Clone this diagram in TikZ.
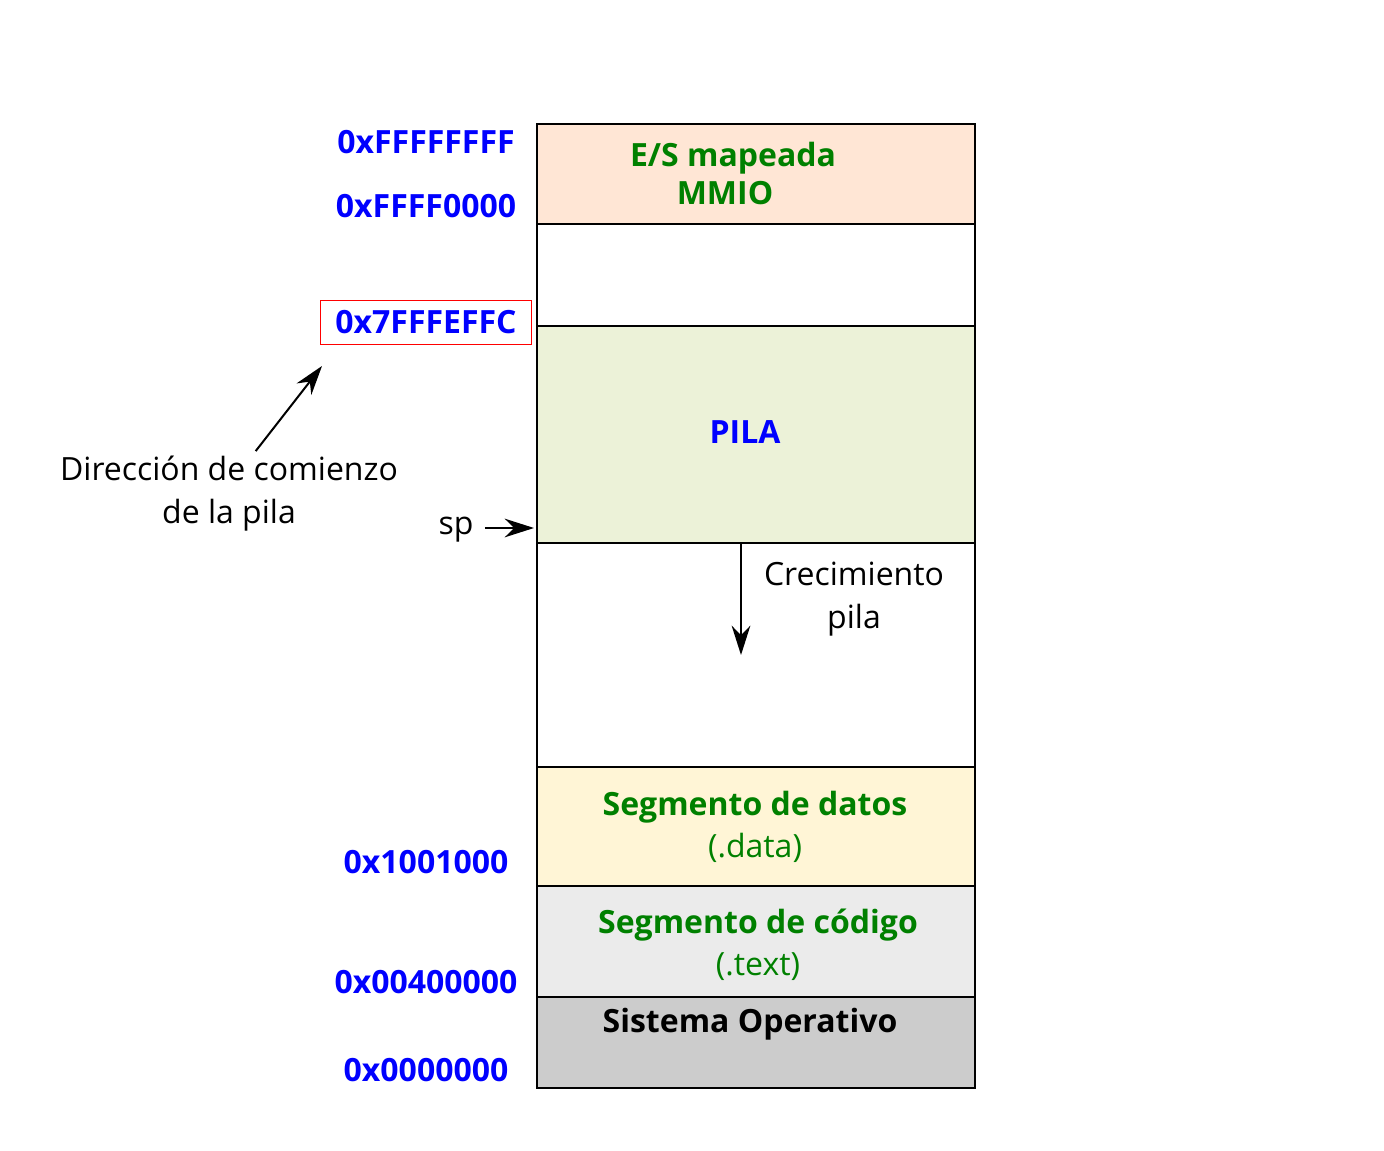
\documentclass[tikz,border=0pt]{standalone}
\usepackage{fontspec}
\setmainfont{Open Sans}
\usetikzlibrary{arrows.meta}
\definecolor{addrblue}{RGB}{0,0,255}
\definecolor{segtext}{RGB}{0,128,0}
\definecolor{mmiofill}{RGB}{255,230,213}
\definecolor{pilafill}{RGB}{236,242,216}
\definecolor{datosfill}{RGB}{255,245,214}
\definecolor{codigofill}{RGB}{235,235,235}
\definecolor{sofill}{RGB}{204,204,204}
\newcommand{\diagfont}{\fontsize{24}{32}\selectfont}
\begin{document}
\begin{tikzpicture}[x=0.75pt,y=0.75pt,yscale=-1,xscale=1,
    seg/.style={draw=black, line width=1.3pt, anchor=north west, minimum width=328.5pt, inner sep=0pt},
    addr/.style={text=addrblue, font=\diagfont\bfseries, anchor=base},
    segname/.style={text=segtext, font=\diagfont\bfseries, anchor=base},
    lbl/.style={font=\diagfont, anchor=base, align=center},
    arr/.style={-{Stealth[length=22pt,width=14pt]}, line width=1.5pt}]
                \useasboundingbox (0,0) rectangle (1384,1151);
                % memory segments
                \node (mmio) [seg, fill=mmiofill, minimum height=75pt] at (536,123) {};
                \node (libre) [seg, fill=white, minimum height=76.5pt] at (536,223) {};
                \node (pila) [seg, fill=pilafill, minimum height=162.75pt] at (536,325) {};
                \node (hueco) [seg, fill=white, minimum height=168pt] at (536,542) {};
                \node (datos) [seg, fill=datosfill, minimum height=89.25pt] at (536,766) {};
                \node (codigo) [seg, fill=codigofill, minimum height=83.25pt] at (536,885) {};
                \node (so) [seg, fill=sofill, minimum height=68.25pt] at (536,996) {};
                % segment names
                \node (esname) [segname] at (733,167) {E/S mapeada};
                \node (mmioname) [segname] at (725,205) {MMIO};
                \node (pilaname) [addr] at (745,444) {PILA};
                \node (datosname) [segname] at (755,815) {Segmento de datos};
                \node (datossub) [lbl, text=segtext] at (755,857) {(.data)};
                \node (codname) [segname] at (758,933) {Segmento de código};
                \node (codsub) [lbl, text=segtext] at (758,975) {(.text)};
                \node (soname) [lbl, font=\diagfont\bfseries] at (750,1032) {Sistema Operativo};
                % addresses
                \node (aFFFFFFFF) [addr] at (426,154) {0xFFFFFFFF};
                \node (aFFFF0000) [addr] at (426,218) {0xFFFF0000};
                \node (a7FFFEFFC) [addr, draw=red, line width=1pt, minimum width=158pt, minimum height=33pt] at (426,334) {0x7FFFEFFC};
                \node (a1001000) [addr] at (426,873) {0x1001000};
                \node (a00400000) [addr] at (426,993) {0x00400000};
                \node (a0000000) [addr] at (426,1081) {0x0000000};
                % notes
                \node (dir) [lbl] at (229,523) {Dirección de comienzo\\de la pila};
                \node (sp) [lbl] at (456,534) {sp};
                \node (crecimiento) [lbl] at (854,628) {Crecimiento\\pila};
                \coordinate (dirtip) at (322,366);
                \coordinate (spdst) at (534,528);
                \coordinate (crece) at (741,655);
                \draw [arr] ([xshift=20pt]dir.north) -- (dirtip);
                \draw [arr] ([xshift=5pt]sp.east |- spdst) -- (spdst);
                \draw [arr] (crece |- pila.south) -- (crece);
            \end{tikzpicture}
\end{document}
